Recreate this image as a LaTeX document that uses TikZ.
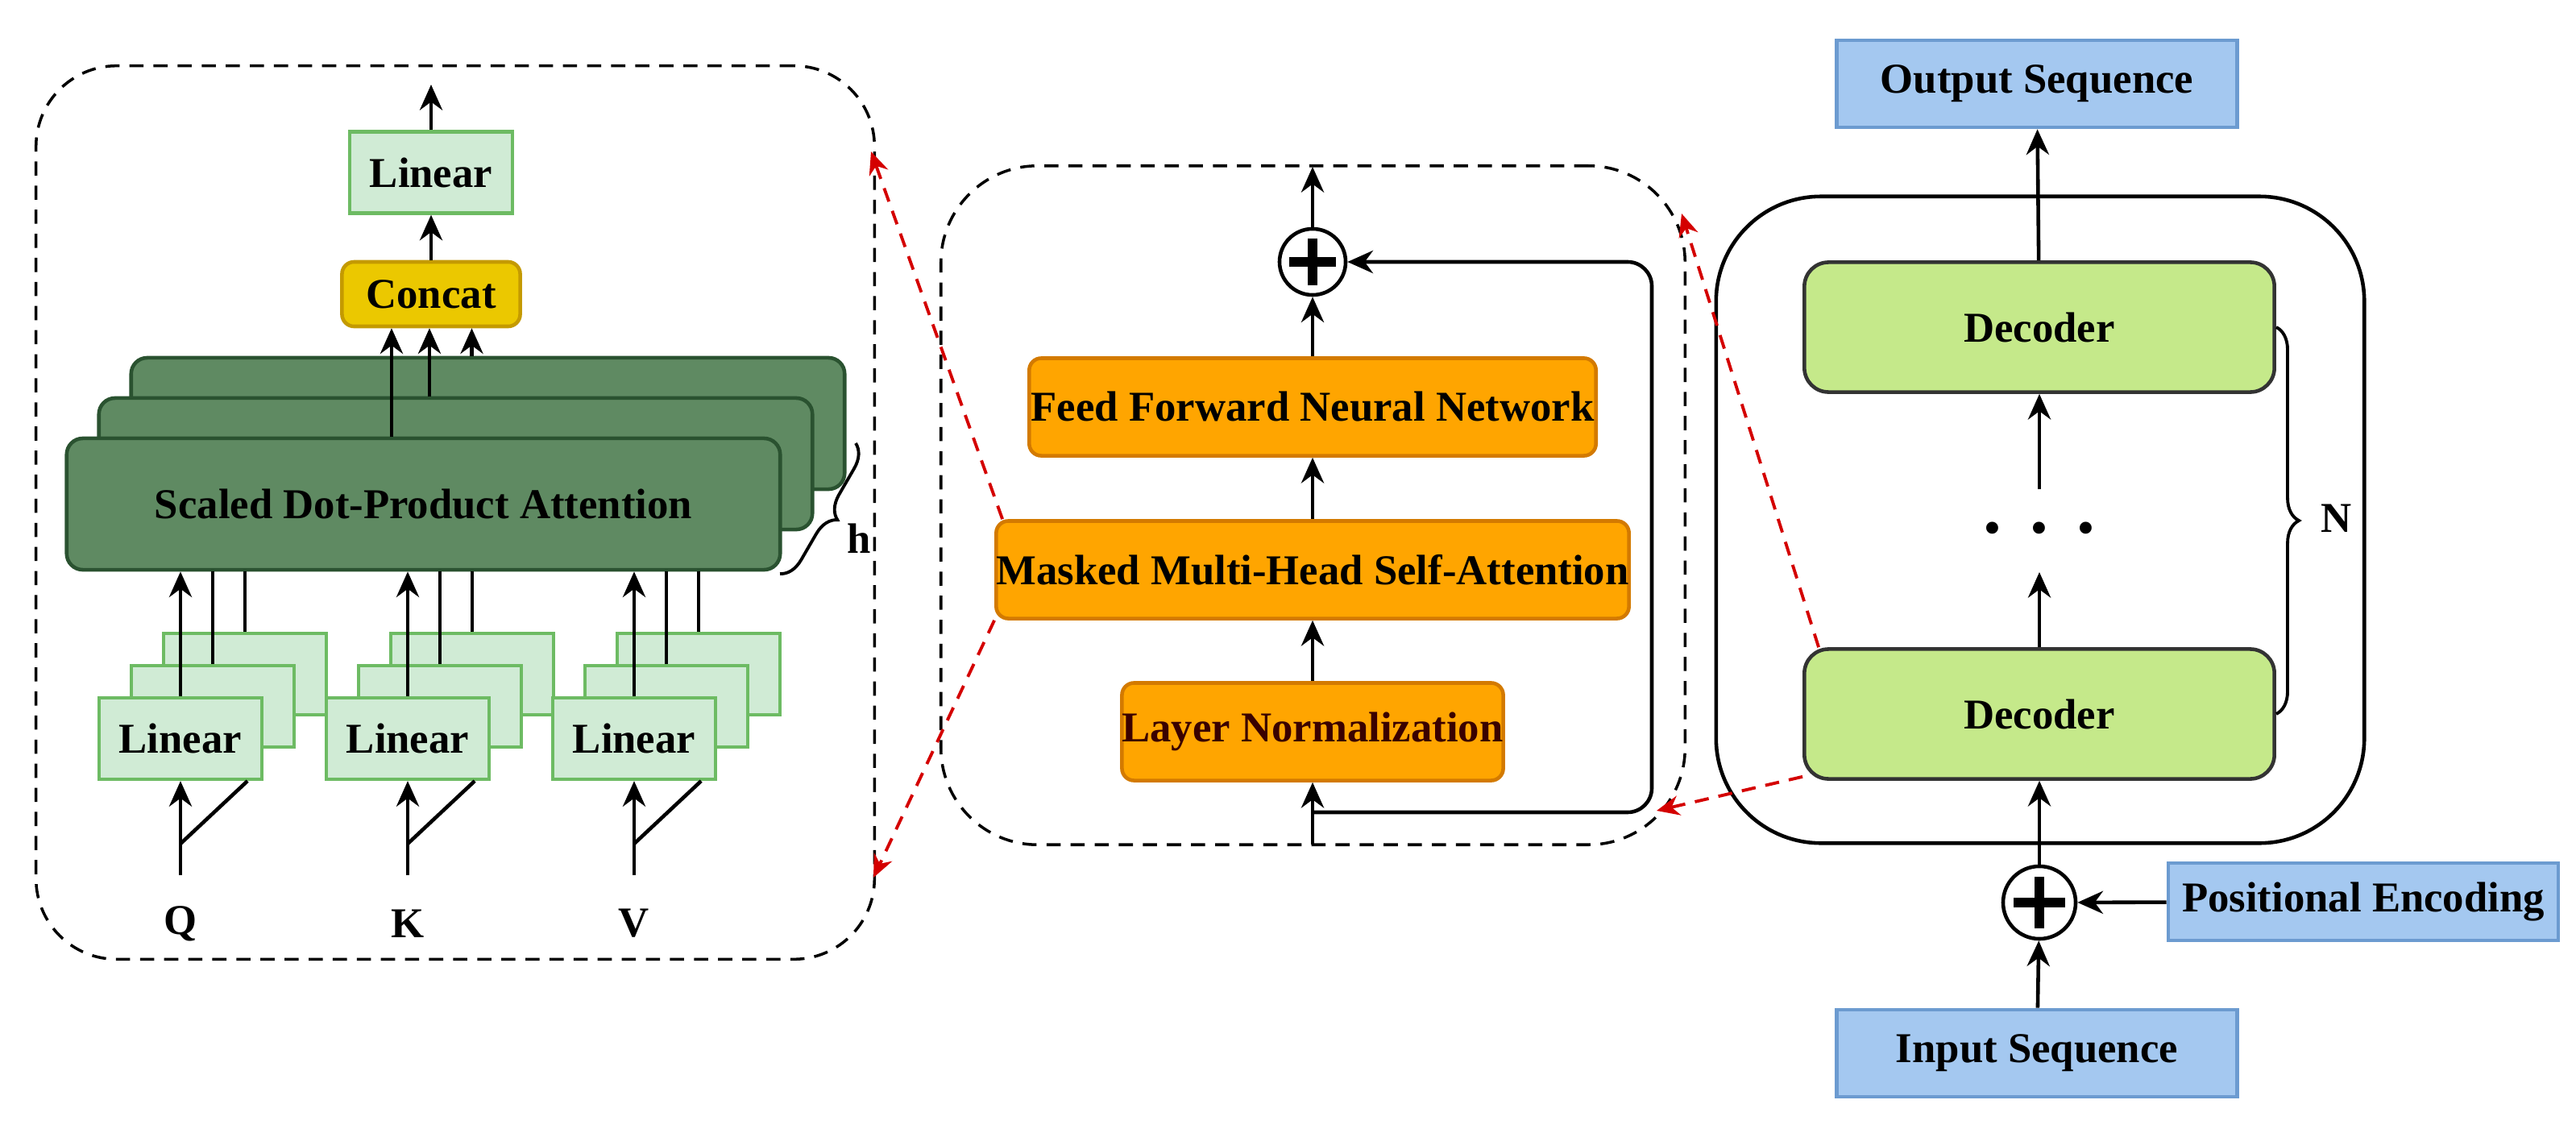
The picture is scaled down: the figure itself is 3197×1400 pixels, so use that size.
\documentclass[tikz,border=0pt]{standalone}
\usepackage{fontspec}
\setmainfont{Liberation Serif}
\usetikzlibrary{arrows.meta, positioning, decorations.pathreplacing}
\definecolor{linfill}{HTML}{D0EBD5}
\definecolor{lindraw}{HTML}{6DBB63}
\definecolor{attfill}{HTML}{5F8A62}
\definecolor{attdraw}{HTML}{2A5230}
\definecolor{catfill}{HTML}{EBC800}
\definecolor{catdraw}{HTML}{C49A00}
\definecolor{orfill}{HTML}{FFA500}
\definecolor{ordraw}{HTML}{D37A00}
\definecolor{decfill}{HTML}{C5E98A}
\definecolor{seqfill}{HTML}{A4C8F0}
\definecolor{seqdraw}{HTML}{6C9BD0}
\definecolor{lntext}{HTML}{3A0000}
\definecolor{linkred}{HTML}{D40000}

\begin{document}
\begin{tikzpicture}[x=0.01cm, y=-0.01cm, >={Stealth[length=9pt,width=8pt]},
    every node/.style={font=\fontsize{15pt}{18pt}\selectfont\bfseries, inner sep=0pt},
    arr/.style={->, line width=1.3pt},
    line/.style={line width=1.3pt},
    lin/.style={draw=lindraw, fill=linfill, line width=1.2pt, minimum width=2.02cm, minimum height=1.01cm},
    att/.style={draw=attdraw, fill=attfill, line width=1.3pt, rounded corners=0.2cm, minimum width=8.85cm, minimum height=1.63cm},
    orbox/.style={draw=ordraw, fill=orfill, line width=1.3pt, rounded corners=0.15cm, minimum height=1.21cm},
    dec/.style={draw=black!80, fill=decfill, line width=1.3pt, rounded corners=0.3cm, minimum width=5.83cm, minimum height=1.61cm},
    seq/.style={draw=seqdraw, fill=seqfill, line width=1.3pt, minimum height=1.08cm},
    plus/.style={draw, circle, line width=1.3pt, minimum size=0.82cm},
    frame/.style={draw, dashed, line width=1pt, dash pattern=on 5pt off 3.5pt},
    link/.style={->, draw=linkred, line width=1.1pt, dash pattern=on 5pt off 3.5pt, >={Stealth[length=8pt,width=7pt]}},
    brc/.style={decorate, decoration={brace, amplitude=8pt}, line width=1.1pt}]
  \useasboundingbox (0,0) rectangle (3197,1400);

  % multi-head attention
  \node[frame, rounded corners=1cm, minimum width=10.4cm, minimum height=11.08cm] (mha) at (565,636) {};
  \foreach \i in {2,1,0}
    \node[att] (att\i) at (525.5+40*\i, 625.5-50*\i) {};
  \node at (att0) {Scaled Dot-Product Attention};
  \node[draw=catdraw, fill=catfill, line width=1.3pt, rounded corners=0.15cm, minimum width=2.21cm, minimum height=0.8cm] (concat) at (535,365) {Concat};
  \node[lin] (linout) at (535,214) {Linear};
  \coordinate (mhaout) at (535,105);
  \draw[arr] (concat) -- (linout);
  \draw[arr] (linout) -- (mhaout);
  \draw[arr] ([xshift=-0.395cm]att0.north) -- ([xshift=-0.395cm]att0.north |- concat.south);
  \draw[arr] ([xshift=-0.325cm]att1.north) -- ([xshift=-0.325cm]att1.north |- concat.south);
  \draw[arr] ([xshift=-0.2cm]att2.north) -- ([xshift=-0.2cm]att2.north |- concat.south);
  \draw[brc] (1062,550) -- (968,712);
  \node at (1066,668) {h};

  \foreach \n/\x in {Q/224, K/506, V/787} {
    \foreach \i in {2,1,0}
      \node[lin] (lin\n\i) at (\x+40*\i, 916.5-40*\i) {};
    \node at (lin\n0) {Linear};
    \node (in\n) at (\x,1146) {\n};
    \coordinate (src\n) at (\x,1086);
    \coordinate (fork\n) at (\x,1047);
    \draw[arr] (src\n) -- (lin\n0.south);
    \draw[line] (fork\n) -- ([xshift=-0.2cm]lin\n0.south east);
    \draw[arr] (lin\n0.north) -- (lin\n0.north |- att0.south);
    \draw[line] (lin\n1.north) -- (lin\n1.north |- att0.south);
    \draw[line] (lin\n2.north) -- (lin\n2.north |- att0.south);
  }

  % decoder layer
  \node[frame, rounded corners=1.2cm, minimum width=9.23cm, minimum height=8.42cm] (layer) at (1629.5,627) {};
  \node[orbox, minimum width=4.41cm, text=lntext] (ln) at (1629,908) {Layer Normalization};
  \node[orbox, minimum width=7.64cm] (mmsa) at (1629,707) {Masked Multi-Head Self-Attention};
  \node[orbox, minimum width=7.03cm] (ffn) at (1629,505) {Feed Forward Neural Network};
  \node[plus] (add) at (1629,325) {};
  \draw[line width=3.5pt] (add.center) ++(-29,0) -- ++(58,0) (add.center) ++(0,-29) -- ++(0,58);
  \coordinate (layerin) at (1629,1048);
  \coordinate (res) at (1629,1008);
  \coordinate (resturn) at (2050,325);
  \coordinate (layerout) at (1629,207);
  \draw[arr] (layerin) -- (ln);
  \draw[arr] (ln) -- (mmsa);
  \draw[arr] (mmsa) -- (ffn);
  \draw[arr] (ffn) -- (add);
  \draw[arr] (add) -- (layerout);
  \draw[arr, rounded corners=0.3cm] (res) -| (resturn) -- (add);

  % decoder stack
  \node[draw, line width=1.3pt, rounded corners=1.3cm, minimum width=8.04cm, minimum height=8.02cm] (stack) at (2532,645) {};
  \node[dec] (dectop) at (2531,406) {Decoder};
  \node[dec] (decbot) at (2531,886) {Decoder};
  \node (dots) at (2531,655) {\fontsize{26pt}{26pt}\selectfont .\hspace{0.35cm}.\hspace{0.35cm}.};
  \coordinate (dotsin) at (2531,710);
  \coordinate (dotsout) at (2531,607);
  \draw[arr] (decbot) -- (dotsin);
  \draw[arr] (dotsout) -- (dectop);
  \draw[brc] (dectop.east) -- (decbot.east);
  \node (nlabel) at (2900,643) {N};
  \node[seq, minimum width=4.97cm] (outseq) at (2528,104) {Output Sequence};
  \node[seq, minimum width=4.97cm] (inseq) at (2528,1307) {Input Sequence};
  \node[seq, minimum width=4.84cm, minimum height=0.96cm] (pos) at (2933,1119) {Positional Encoding};
  \node[plus, minimum size=0.9cm] (embadd) at (2531,1120) {};
  \draw[line width=3.5pt] (embadd.center) ++(-32,0) -- ++(64,0) (embadd.center) ++(0,-32) -- ++(0,64);
  \draw[arr] (inseq) -- (embadd);
  \draw[arr] (pos) -- (embadd);
  \draw[arr] (embadd) -- (decbot);
  \draw[arr] (dectop) -- (outseq);

  % zoom links
  \coordinate (mhatop) at (1081,188);
  \coordinate (mhabot) at (1084,1089);
  \coordinate (layertop) at (2087,265);
  \coordinate (layerbot) at (2056,1006);
  \draw[link] (decbot.north west) ++(0.2cm,0) -- (layertop);
  \draw[link] ([yshift=0.05cm]decbot.south west) -- (layerbot);
  \draw[link] ([xshift=0.1cm]mmsa.north west) -- (mhatop);
  \draw[link] (mmsa.south west) -- (mhabot);
\end{tikzpicture}
\end{document}
